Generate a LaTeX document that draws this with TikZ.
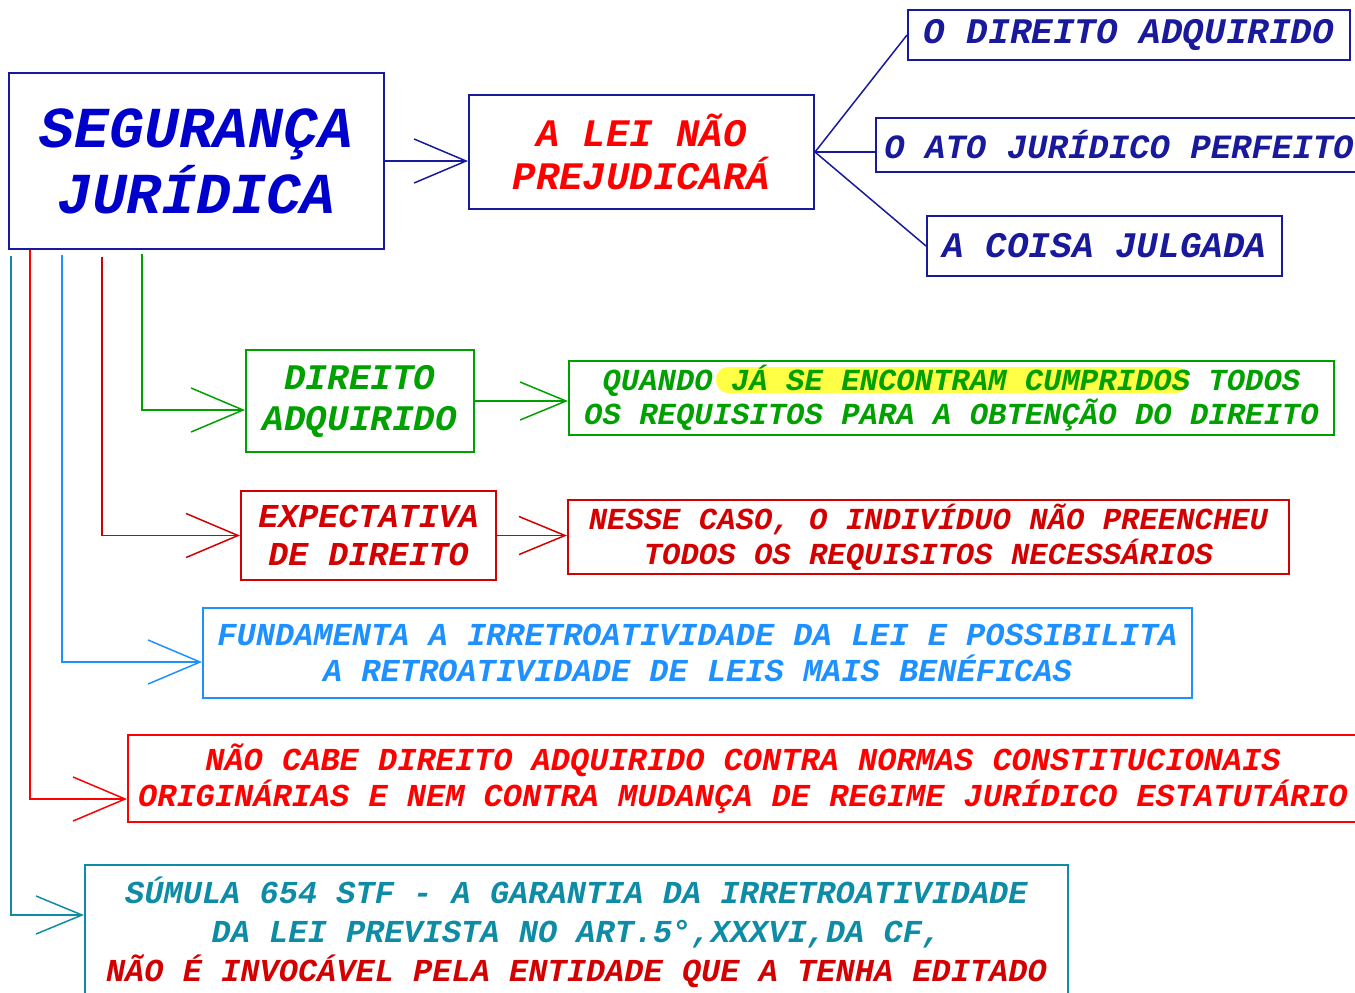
\documentclass[tikz,border=0pt]{standalone}
\usepackage{fontspec}
\setmainfont{Liberation Mono}
\usepackage{xcolor}
\usepackage{tikz}
\usetikzlibrary{arrows.meta,calc}

\definecolor{navy}{RGB}{25,25,155}
\definecolor{segblue}{RGB}{0,0,205}
\definecolor{leired}{RGB}{255,0,0}
\definecolor{dgreen}{RGB}{0,160,0}
\definecolor{dred}{RGB}{210,0,0}
\definecolor{sky}{RGB}{30,144,255}
\definecolor{sumteal}{RGB}{15,140,165}
\definecolor{hilite}{RGB}{255,255,70}

\newcommand\fsz[2]{\fontsize{#1pt}{#2pt}\selectfont\bfseries\itshape}

\begin{document}
\begin{tikzpicture}[x=0.5pt, y=-0.5pt, line width=0.75pt,
  >={Straight Barb[length=26pt,width=22pt]},
  every node/.style={align=center, inner sep=2pt},
  box/.style={draw, line width=1pt},
  smalltip/.style={-{Straight Barb[length=23pt,width=19pt]}}]
\path[use as bounding box, clip] (0,0) rectangle (1355,992);

% main node and the three things the law protects
\node (seg) [box, draw=navy, text=segblue, minimum width=187.5pt, minimum height=88pt, font=\fsz{29}{33}] at (196.5,161) {SEGURANÇA\\JURÍDICA};
\node (lei) [box, draw=navy, text=leired, minimum width=172.5pt, minimum height=57pt, font=\fsz{19.5}{21.5}] at (641.5,152) {A LEI NÃO\\PREJUDICARÁ};
\node (dadq) [box, draw=navy, text=navy, minimum width=221pt, minimum height=25pt, font=\fsz{18}{20}] at (1129,35) {O DIREITO ADQUIRIDO};
\node (ato) [box, draw=navy, text=navy, minimum width=243pt, minimum height=27pt, font=\fsz{17}{19}] at (1119,145) {O ATO JURÍDICO PERFEITO};
\node (coisa) [box, draw=navy, text=navy, minimum width=177.5pt, minimum height=30pt, font=\fsz{18}{20}] at (1104.5,246) {A COISA JULGADA};

% branches
\node (dir) [box, draw=dgreen, text=dgreen, minimum width=114pt, minimum height=51pt, font=\fsz{18}{20.5}] at (360,401) {DIREITO\\ADQUIRIDO};
\fill[hilite, rounded corners=6pt] (716,367) rectangle (1188,393);
\node (quando) [box, draw=dgreen, text=dgreen, minimum width=382.5pt, minimum height=37pt, font=\fsz{15.3}{17}] at (951.5,398) {QUANDO JÁ SE ENCONTRAM CUMPRIDOS TODOS\\OS REQUISITOS PARA A OBTENÇÃO DO DIREITO};
\node (expt) [box, draw=dred, text=dred, minimum width=127.5pt, minimum height=44.5pt, font=\fsz{16.7}{19}] at (368.5,535.5) {EXPECTATIVA\\DE DIREITO};
\node (nesse) [box, draw=dred, text=dred, minimum width=360.5pt, minimum height=37pt, font=\fsz{15.3}{17.5}] at (928.5,537) {NESSE CASO, O INDIVÍDUO NÃO PREENCHEU\\TODOS OS REQUISITOS NECESSÁRIOS};
\node (fund) [box, draw=sky, text=sky, minimum width=494.5pt, minimum height=45pt, font=\fsz{16}{18}] at (697.5,653) {FUNDAMENTA A IRRETROATIVIDADE DA LEI E POSSIBILITA\\A RETROATIVIDADE DE LEIS MAIS BENÉFICAS};
\node (naocabe) [box, draw=leired, text=leired, minimum width=615pt, minimum height=43.5pt, font=\fsz{16}{18}] at (743,778.5) {NÃO CABE DIREITO ADQUIRIDO CONTRA NORMAS CONSTITUCIONAIS\\ORIGINÁRIAS E NEM CONTRA MUDANÇA DE REGIME JURÍDICO ESTATUTÁRIO};
\node (sumula) [box, draw=sumteal, text=sumteal, minimum width=491.5pt, minimum height=67pt, font=\fsz{16}{19.5}] at (576.5,932) {SÚMULA 654 STF - A GARANTIA DA IRRETROATIVIDADE\\DA LEI PREVISTA NO ART.5°,XXXVI,DA CF,\\{\color{dred}NÃO É INVOCÁVEL PELA ENTIDADE QUE A TENHA EDITADO}};

% connectors
\draw[navy, ->] (seg.east) -- (seg.east -| lei.west);
\draw[navy] (lei.east) -- (dadq.west);
\draw[navy] (lei.east) -- (lei.east -| ato.west);
\draw[navy] (lei.east) -- (coisa.west);
\draw[dgreen, ->] ($(seg.south west)+(134,4)$) |- ($(dir.west)+(0,9)$);
\draw[dgreen, smalltip] (dir.east) -- (dir.east -| quando.west);
\draw[dred, ->] ($(seg.south west)+(94,7)$) |- (expt.west);
\draw[dred, smalltip] (expt.east) -- (expt.east -| nesse.west);
\draw[sky, ->] ($(seg.south west)+(54,5)$) |- ($(fund.west)+(0,9)$);
\draw[leired, ->] ($(seg.south west)+(22,0)$) |- ($(naocabe.west)+(0,20.5)$);
\draw[sumteal, smalltip] ($(seg.south west)+(3,6)$) |- ($(sumula.west)+(0,-17)$);
\end{tikzpicture}
\end{document}
